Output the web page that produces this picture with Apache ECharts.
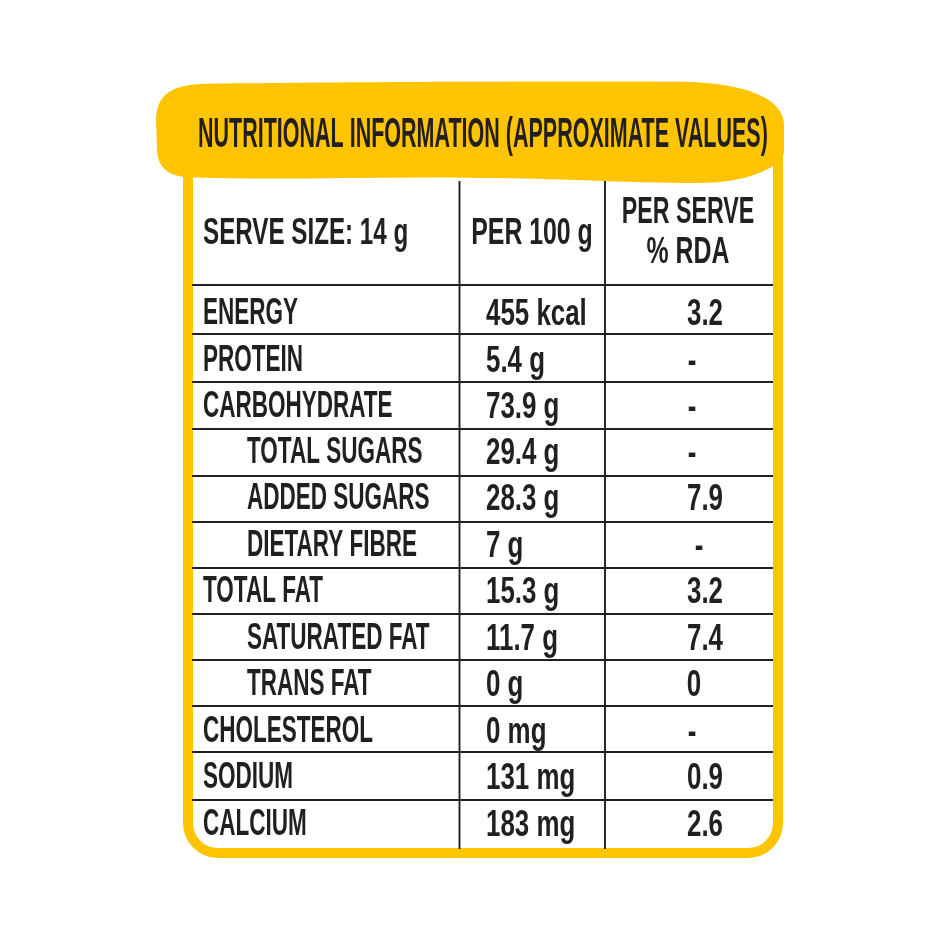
<!DOCTYPE html>
<html><head><meta charset="utf-8">
<style>html,body{margin:0;padding:0;background:#fff}#c{width:940px;height:940px}</style>
<script src="https://cdn.jsdelivr.net/npm/echarts@6/dist/echarts.min.js"></script>
</head><body><div id="c"></div>
<script>
const titleText = 'NUTRITIONAL INFORMATION (APPROXIMATE VALUES)';
const headers = ['SERVE SIZE: 14 g', 'PER 100 g', 'PER SERVE', '% RDA'];
const nutrients = ['ENERGY','PROTEIN','CARBOHYDRATE','TOTAL SUGARS','ADDED SUGARS','DIETARY FIBRE','TOTAL FAT','SATURATED FAT','TRANS FAT','CHOLESTEROL','SODIUM','CALCIUM'];
const per100 = ['455 kcal','5.4 g','73.9 g','29.4 g','28.3 g','7 g','15.3 g','11.7 g','0 g','0 mg','131 mg','183 mg'];
const rda = ['3.2','-','-','-','7.9','-','3.2','7.4','0','-','0.9','2.6'];
const indented = [3,4,5,7,8];

const rowLines = [285,334,382,429,476,522,568,614,660,706,752,800];
const rowText = [312,359,405,451,497,544,590,637,683,730,776,823];
const rdaX = [705,692,692,692,705,699,705,705,694,692,705,705];
const FONT = '"Liberation Sans Narrow","Liberation Sans","DejaVu Sans Condensed",sans-serif';
const INK = '#231f20', YEL = '#fec400';

echarts.graphic.registerShape('blob', echarts.graphic.extendShape({
  shape:{},
  buildPath(ctx){
    ctx.moveTo(200,84);
    ctx.bezierCurveTo(320,82,600,81,690,82);
    ctx.bezierCurveTo(745,84,784,98,784,125);
    ctx.lineTo(784,152);
    ctx.bezierCurveTo(782,168,745,183,700,183);
    ctx.bezierCurveTo(620,183,560,178,480,178);
    ctx.bezierCurveTo(380,176,280,181,183,177);
    ctx.bezierCurveTo(165,174,158,165,157,150);
    ctx.lineTo(156,120);
    ctx.bezierCurveTo(157,95,170,86,200,84);
    ctx.closePath();
  }
}));

function txt(text,x,y,size,align,sx){
  return {type:'text',x:x,y:y,scaleX:sx,scaleY:1,z:5,
    style:{text:text,fontFamily:FONT,fontWeight:'bold',fontSize:size,fill:INK,align:align||'left',verticalAlign:'middle'}};
}
function line(x1,y1,x2,y2,w){
  return {type:'line',z:3,shape:{x1,y1,x2,y2},style:{stroke:INK,lineWidth:w||1.9}};
}
const els=[];
els.push({type:'rect',z:1,shape:{x:188,y:130,width:590,height:723,r:[0,0,30,30]},style:{fill:'#fff',stroke:YEL,lineWidth:10}});
els.push({type:'blob',z:2,shape:{},style:{fill:YEL}});
els.push(txt(titleText,198,135,42,'left',0.512));
els.push(line(459.5,181,459.5,849));
els.push(line(605,181,605,849));
rowLines.forEach(y=>els.push(line(192,y,773,y)));
els.push(txt(headers[0],203,234,36,'left',0.672));
els.push(txt(headers[1],532,234,36,'center',0.69));
els.push(txt(headers[2],688,213,36,'center',0.645));
els.push(txt(headers[3],688,253,36,'center',0.69));
nutrients.forEach((n,i)=>{
  els.push(txt(n,indented.includes(i)?247:203,rowText[i]+2,37,'left',0.608));
  els.push(txt(per100[i],486,rowText[i]+3,37,'left',0.7));
  els.push(txt(rda[i],rdaX[i],rowText[i]+3,37,'center',0.7));
});
const chart=echarts.init(document.getElementById('c'),null,{renderer:'canvas'});
chart.setOption({animation:false,backgroundColor:'#ffffff',graphic:{elements:els}});
</script></body></html>
